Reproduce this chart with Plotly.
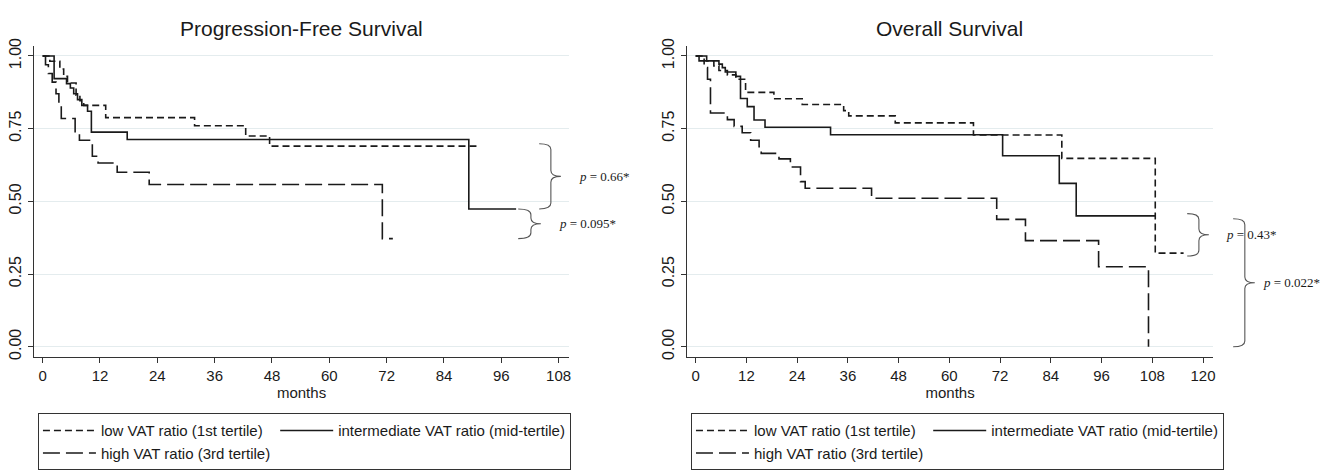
import plotly.graph_objects as go

# ---------------- data ----------------
months_ticks = [0, 12, 24, 36, 48, 60, 72, 84, 96, 108]
months_ticks_os = [0, 12, 24, 36, 48, 60, 72, 84, 96, 108, 120]
surv_ticks = [0.0, 0.25, 0.50, 0.75, 1.00]
surv_tick_labels = ["0.00", "0.25", "0.50", "0.75", "1.00"]

series_names = ["low VAT ratio (1st tertile)",
                "intermediate VAT ratio (mid-tertile)",
                "high VAT ratio (3rd tertile)"]

# Progression-free survival
pfs_low_t = [0, 1.5, 3.6, 4.4, 5.2, 7.0, 7.8, 8.6, 13.2, 31.8, 42.5, 47.5, 90.8]
pfs_low_s = [1.0, 0.982, 0.955, 0.93, 0.907, 0.865, 0.846, 0.83, 0.788, 0.76, 0.725, 0.69, 0.69]

pfs_mid_t = [0, 2.4, 5.0, 5.8, 6.5, 7.3, 8.2, 9.4, 10.2, 17.7, 89.2, 99.1]
pfs_mid_s = [1.0, 0.922, 0.905, 0.89, 0.87, 0.85, 0.83, 0.81, 0.738, 0.713, 0.474, 0.474]

pfs_high_t = [0, 0.6, 1.2, 2.0, 2.8, 3.4, 3.9, 6.8, 7.7, 10.4, 11.6, 15.6, 22.3, 71.1, 73.3]
pfs_high_s = [1.0, 0.97, 0.94, 0.91, 0.87, 0.83, 0.785, 0.735, 0.71, 0.655, 0.632, 0.60, 0.558, 0.372, 0.372]

# Overall survival
os_low_t = [0, 2.0, 4.3, 5.5, 7.5, 9.5, 11.8, 18.5, 25.2, 35.0, 36.2, 47.2, 65.7, 86.6, 108.7, 115.4]
os_low_s = [1.0, 0.983, 0.966, 0.95, 0.935, 0.92, 0.875, 0.853, 0.833, 0.812, 0.794, 0.77, 0.728, 0.648, 0.322, 0.322]

os_mid_t = [0, 2.6, 5.5, 6.3, 7.0, 9.5, 10.6, 12.2, 13.8, 16.4, 31.9, 72.6, 86.0, 90.0, 108.7]
os_mid_s = [1.0, 0.983, 0.972, 0.96, 0.945, 0.93, 0.854, 0.826, 0.78, 0.755, 0.729, 0.657, 0.562, 0.45, 0.45]

os_high_t = [0, 0.8, 2.0, 2.8, 3.5, 7.5, 9.1, 11.0, 13.0, 15.0, 15.5, 19.7, 22.4, 24.8, 25.9, 41.6, 71.2, 78.0, 95.3, 107.1]
os_high_s = [1.0, 0.983, 0.96, 0.92, 0.804, 0.781, 0.758, 0.736, 0.71, 0.688, 0.665, 0.646, 0.618, 0.568, 0.545, 0.511, 0.438, 0.365, 0.275, 0.0]

p_labels_pfs = ["0.66*", "0.095*"]
p_labels_os = ["0.43*", "0.022*"]

# ---------------- styling ----------------
W, H = 1336, 471
SANS = "Liberation Sans, Arial, sans-serif"
SERIF = "Liberation Serif, Times New Roman, serif"
INK = "#1a1a1a"
GRID = "#e4ecee"
dash_styles = ["7px,4px", "solid", "17px,6px"]

def px(x):
    return x / W

def py(y):
    return 1 - y / H

fig = go.Figure()

pfs = [(pfs_low_t, pfs_low_s), (pfs_mid_t, pfs_mid_s), (pfs_high_t, pfs_high_s)]
os_ = [(os_low_t, os_low_s), (os_mid_t, os_mid_s), (os_high_t, os_high_s)]
groups = ["A", "B", "A"]

for i, (t, s) in enumerate(pfs):
    fig.add_trace(go.Scatter(
        x=t, y=s, mode="lines", line=dict(shape="hv", color=INK, width=1.6, dash=dash_styles[i]),
        name=series_names[i], xaxis="x", yaxis="y", legend="legend",
        legendgroup="pfs" + groups[i], hoverinfo="skip"))

for i, (t, s) in enumerate(os_):
    fig.add_trace(go.Scatter(
        x=t, y=s, mode="lines", line=dict(shape="hv", color=INK, width=1.6, dash=dash_styles[i]),
        name=series_names[i], xaxis="x2", yaxis="y2", legend="legend2",
        legendgroup="os" + groups[i], hoverinfo="skip"))

ydom = [py(357), py(39)]
axis_common = dict(showline=True, linecolor="#333", linewidth=1.2, ticks="outside",
                   ticklen=5, tickcolor="#333", tickwidth=1.2, zeroline=False,
                   showgrid=False, mirror=False)
yaxis_common = dict(axis_common, range=[-0.034, 1.034], tickvals=surv_ticks,
                    ticktext=surv_tick_labels, tickangle=-90, showgrid=True,
                    gridcolor=GRID, gridwidth=1,
                    tickfont=dict(family=SANS, size=16, color=INK), domain=ydom)
xtitle = dict(text="months", font=dict(family=SANS, size=15, color=INK), standoff=0)
legend_common = dict(yanchor="top", xanchor="left", orientation="h",
                     traceorder="grouped", bordercolor="#333", borderwidth=1, bgcolor="white",
                     font=dict(family=SANS, size=15, color=INK), itemwidth=53,
                     tracegroupgap=14)

fig.update_layout(
    width=W, height=H, margin=dict(l=0, r=0, t=0, b=0),
    paper_bgcolor="white", plot_bgcolor="white",
    xaxis=dict(axis_common, domain=[px(34), px(570)], range=[-1.82, 110.2],
               tickvals=months_ticks, tickfont=dict(family=SANS, size=15, color=INK),
               title=xtitle, anchor="y"),
    yaxis=dict(yaxis_common, anchor="x"),
    xaxis2=dict(axis_common, domain=[px(688), px(1215)], range=[-2.06, 122.4],
                tickvals=months_ticks_os, tickfont=dict(family=SANS, size=15, color=INK),
                title=xtitle, anchor="y2"),
    yaxis2=dict(yaxis_common, anchor="x2"),
    legend=dict(legend_common, x=px(38), y=py(415)),
    legend2=dict(legend_common, x=px(692), y=py(415)),
    showlegend=True,
)

# titles
fig.add_annotation(text="Progression-Free Survival", x=px(302), y=py(21), xref="paper", yref="paper",
                   showarrow=False, font=dict(family=SANS, size=21, color=INK), xanchor="center", yanchor="middle")
fig.add_annotation(text="Overall Survival", x=px(951), y=py(21), xref="paper", yref="paper",
                   showarrow=False, font=dict(family=SANS, size=21, color=INK), xanchor="center", yanchor="middle")

# braces with p-values
def brace_path(xa, xb, xc, yt, yb, d=0.02):
    ym = (yt + yb) / 2
    return (f"M{xa},{yt} Q{xb},{yt} {xb},{yt-d} L{xb},{ym+d} "
            f"Q{xb},{ym} {xc},{ym} Q{xb},{ym} {xb},{ym-d} "
            f"L{xb},{yb+d} Q{xb},{yb} {xa},{yb}")

pfs_end_low, pfs_end_mid, pfs_end_high = pfs_low_s[-1], pfs_mid_s[-1], pfs_high_s[-1]
os_end_low, os_end_mid, os_end_high = os_low_s[-1], os_mid_s[-1], os_high_s[-1]

braces = [
    # (xa, xb, xc, ytop, ybottom, yref, text x, label)
    (540, 551.7, 561.7, pfs_end_low + 0.008, pfs_end_mid, "y", 578, p_labels_pfs[0]),
    (519, 531.7, 541.7, pfs_end_mid, pfs_end_high, "y", 558, p_labels_pfs[1]),
    (1189, 1200.7, 1210.7, os_end_mid + 0.008, os_end_low - 0.01, "y2", 1226, p_labels_os[0]),
    (1235, 1246.7, 1256.7, os_end_mid - 0.01, os_end_high, "y2", 1263, p_labels_os[1]),
]
for xa, xb, xc, yt, yb, yr, tx, lab in braces:
    fig.add_shape(type="path", xref="paper", yref=yr,
                  path=brace_path(px(xa), px(xb), px(xc), yt, yb),
                  line=dict(color="#555", width=1.1))
    fig.add_annotation(text=f"<i>p</i> = {lab}", x=px(tx), y=(yt + yb) / 2, xref="paper", yref=yr,
                       showarrow=False, xanchor="left", yanchor="middle",
                       font=dict(family=SERIF, size=13, color=INK))

fig.write_html("out.html", config={"displayModeBar": False},
               post_script="document.body.style.margin='0';")
